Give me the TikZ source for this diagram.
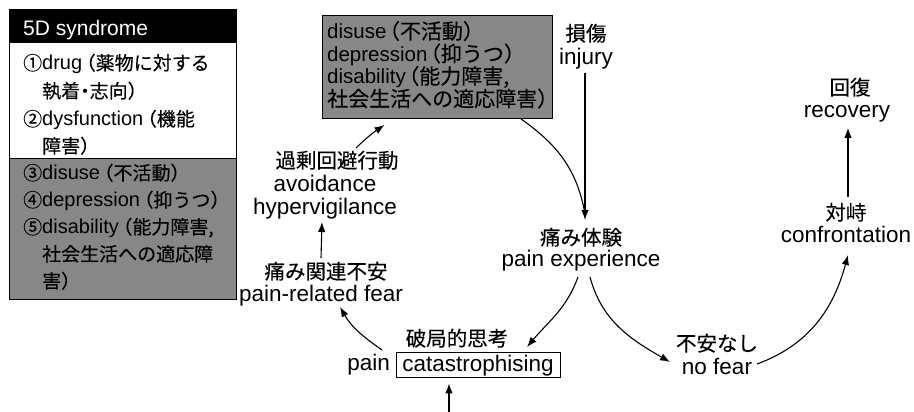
\documentclass[tikz,border=0pt]{standalone}
\usepackage{fontspec}
\setmainfont{Liberation Sans}
\newfontfamily\jpfont[RawFeature=+halt, FakeBold=0.25]{Noto Sans CJK JP}
\usetikzlibrary{arrows.meta,calc}
\def\jsize{20.5}
\newcommand\J[1]{{\jpfont\fontsize{\jsize}{23}\selectfont #1}}
\newcommand\gap{\hspace{4pt}}
\newcommand\tgap{\hspace{3pt}}
\definecolor{boxgray}{RGB}{135,135,135}
\begin{document}
\begin{tikzpicture}[x=1pt,y=1pt,
  lbl/.style={inner sep=0pt, anchor=base, font=\def\jsize{20.5}\fontsize{22.5}{23.5}\selectfont},
  bx/.style={inner sep=0pt, anchor=base west, font=\def\jsize{19}\fontsize{20}{23}\selectfont},
  tbx/.style={inner sep=0pt, anchor=base west, font=\def\jsize{21}\fontsize{20.5}{22.5}\selectfont},
  arr/.style={line width=1.1pt, -{Latex[length=10pt,width=7.5pt]}},
  ln/.style={line width=1.1pt}]
\fill[white] (0,0) rectangle (914,412);
\useasboundingbox (0,0) rectangle (914,412);

% ---- left box: 5D syndrome
\fill[boxgray] (9,112) rectangle (236,254);
\fill[black] (9,369) rectangle (236,402);
\draw[line width=1pt] (9,112) rectangle (236,402);
\draw[line width=0.8pt] (9,254) -- (236,254);
\node[bx, text=white, font=\fontsize{21}{23}\selectfont] (hdr) at (23,376) {5D syndrome};
\node[bx] (l1) at (23,342) {\J{①}drug\gap\J{（薬物に対する}};
\node[bx] (l2) at (42,314) {\J{執着・志向）}};
\node[bx] (l3) at (23,286) {\J{②}dysfunction\gap\J{（機能}};
\node[bx] (l4) at (42,259) {\J{障害）}};
\node[bx] (l5) at (23,232) {\J{③}disuse\gap\J{（不活動）}};
\node[bx] (l6) at (23,205) {\J{④}depression\gap\J{（抑うつ）}};
\node[bx] (l7) at (23,178) {\J{⑤}disability\gap\J{（能力障害,}};
\node[bx] (l8) at (42,151) {\J{社会生活への適応障}};
\node[bx] (l9) at (42,124) {\J{害）}};

% ---- top gray box
\node[draw, line width=1pt, fill=boxgray, anchor=north west, minimum width=230, minimum height=103,
      inner sep=0pt] (topbox) at (322,397) {};
\node[tbx] (t1) at (327,373) {disuse\tgap\J{（不活動）}};
\node[tbx] (t2) at (327,350.5) {depression\tgap\J{（抑うつ）}};
\node[tbx] (t3) at (327,328) {disability\tgap\J{（能力障害,}};
\node[tbx] (t4) at (327,305.5) {\J{社会生活への適応障害）}};

% ---- labels
\node[lbl] (injJ) at (586,371) {\J{損傷}};
\node[lbl] (inj) at (586,347) {injury};
\node[lbl] (peJ) at (581,167) {\J{痛み体験}};
\node[lbl] (pe) at (581,145) {pain experience};
\node[lbl] (recJ) at (850,317) {\J{回復}};
\node[lbl] (rec) at (847,294) {recovery};
\node[lbl] (conJ) at (846,192) {\J{対峙}};
\node[lbl] (con) at (846,169) {confrontation};
\node[lbl] (nfJ) at (717,61) {\J{不安なし}};
\node[lbl] (nf) at (717,37) {no fear};
\node[lbl] (catJ) at (457,66) {\J{破局的思考}};
\node[lbl, anchor=base east] (painw) at (390,41) {pain};
\node[draw, line width=1pt, minimum width=164, minimum height=25, inner sep=0pt,
      font=\fontsize{22.5}{23.5}\selectfont] (cat) at (478,46.5) {catastrophising};
\node[lbl] (pfJ) at (326,133) {\J{痛み関連不安}};
\node[lbl] (pf) at (321,110) {pain-related fear};
\node[lbl] (avJ) at (337,244) {\J{過剰回避行動}};
\node[lbl] (av) at (325,220) {avoidance};
\node[lbl] (hv) at (325,197) {hypervigilance};

% ---- connectors
\coordinate (petip) at ([xshift=4pt,yshift=25pt]peJ.base);
\draw[arr] ([xshift=-1pt,yshift=-8pt]inj.base) -- (petip);
\draw[ln] ([xshift=-32pt]topbox.south east) to[out=-35,in=100] ([yshift=6pt]petip);
\draw[arr] ([xshift=-3pt,yshift=-10pt]pe.base) to[out=-110,in=50] ([xshift=49pt,yshift=5.5pt]cat.north);
\draw[arr] ([xshift=9pt,yshift=-10pt]pe.base) to[out=-75,in=150] ([xshift=-47pt,yshift=13pt]nf.base);
\draw[arr] ([xshift=40pt,yshift=11pt]nf.base) to[out=20,in=-105] ([xshift=2pt,yshift=-12pt]con.base);
\draw[arr] ([xshift=2pt,yshift=23pt]conJ.base) -- ([xshift=1pt,yshift=-10pt]rec.base);
\coordinate (bot) at (449,0);
\draw[arr] (bot) -- ($(bot |- cat.south)+(0,-5)$);
\draw[arr] ([xshift=-8pt,yshift=21pt]painw.base east) to[out=145,in=-60] ([xshift=19pt,yshift=-5pt]pf.base);
\draw[arr] ([xshift=-5pt,yshift=21pt]pfJ.base) -- ([xshift=-3pt,yshift=-7pt]hv.base);
\draw[arr] ([xshift=19pt,yshift=20pt]avJ.base) to[bend left=5] ([xshift=-53pt,yshift=-6pt]topbox.south);
\end{tikzpicture}
\end{document}
